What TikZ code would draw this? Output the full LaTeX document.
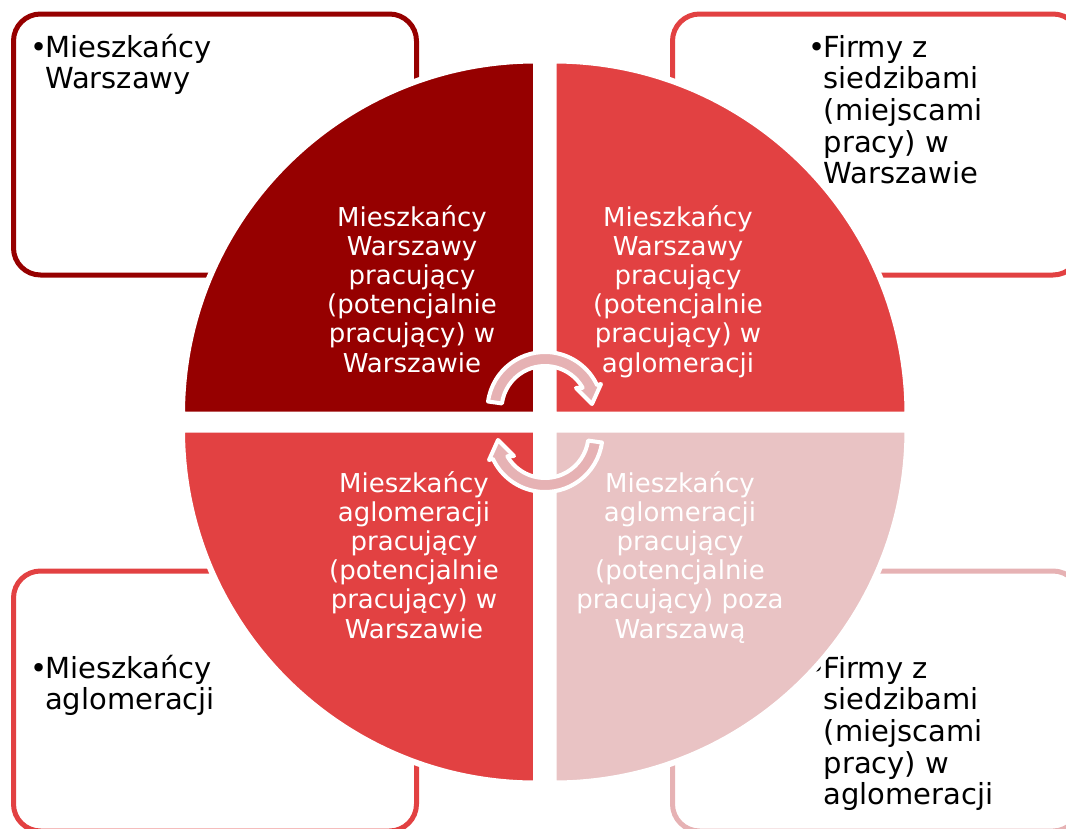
\documentclass[tikz,border=0pt]{standalone}
\usepackage{fontspec}
\setmainfont{DejaVu Sans}
\definecolor{darkred}{RGB}{150,0,0}
\definecolor{midred}{RGB}{226,65,66}
\definecolor{palepink}{RGB}{233,195,196}
\definecolor{rosepink}{RGB}{230,178,180}
\newcommand{\dotmark}{\llap{•\kern-2pt}}
% one circular arrow, local axes with y up
\newcommand{\turnarrow}{(172:57.5) arc[start angle=172, end angle=25, radius=57.5] -- (56,25.5) -- (47,5.5) -- (31,21.5) -- (30:43.5) arc[start angle=30, end angle=172, radius=43.5] -- cycle}
\begin{document}
\begin{tikzpicture}[x=1pt, y=-1pt,
    boxline/.style={line width=5pt, rounded corners=27pt},
    note/.style={inner sep=0pt, align=left, anchor=base west, font=\fontsize{29}{31.7}\selectfont},
    quarter/.style={draw=white, line width=6pt},
    qtext/.style={inner sep=0pt, align=center, anchor=base, text=white, font=\fontsize{26}{29.2}\selectfont},
    turn/.style={fill=rosepink, draw=white, line width=4pt, line join=round}]
    \useasboundingbox (0,0) rectangle (1066,828);
    \clip (0,0) rectangle (1066,828);

    % frames behind the circle
    \draw[boxline, draw=darkred] (13.5,14) rectangle (416.5,275);
    \draw[boxline, draw=midred] (672.5,14) rectangle (1080,275);
    \draw[boxline, draw=midred] (13.5,571) rectangle (416.5,831);
    \draw[boxline, draw=rosepink] (672.5,571) rectangle (1080,831);

    % anchors sit on the last line
    \node[note] (tlNote) at (45,88.7) {\dotmark Mieszkańcy\\Warszawy};
    \node[note] (trNote) at (823.5,183.8) {\dotmark Firmy z\\siedzibami\\(miejscami\\pracy) w\\Warszawie};
    \node[note] (blNote) at (45,709.7) {\dotmark Mieszkańcy\\aglomeracji};
    \node[note] (brNote) at (823.5,804.8) {\dotmark Firmy z\\siedzibami\\(miejscami\\pracy) w\\aglomeracji};

    % the four quarters
    \filldraw[quarter, fill=darkred] (536,414.5) -- ++(-354,0) arc[start angle=180, end angle=270, radius=354] -- cycle;
    \filldraw[quarter, fill=midred] (553.5,414.5) -- ++(0,-354) arc[start angle=270, end angle=360, radius=354] -- cycle;
    \filldraw[quarter, fill=palepink] (553.5,429.5) -- ++(354,0) arc[start angle=0, end angle=90, radius=354] -- cycle;
    \filldraw[quarter, fill=midred] (536,429.5) -- ++(0,354) arc[start angle=90, end angle=180, radius=354] -- cycle;

    \node[qtext] (tlText) at (412,372) {Mieszkańcy\\Warszawy\\pracujący\\(potencjalnie\\pracujący) w\\Warszawie};
    \node[qtext] (trText) at (678,372) {Mieszkańcy\\Warszawy\\pracujący\\(potencjalnie\\pracujący) w\\aglomeracji};
    \node[qtext] (blText) at (414,638) {Mieszkańcy\\aglomeracji\\pracujący\\(potencjalnie\\pracujący) w\\Warszawie};
    \node[qtext] (brText) at (680,638) {Mieszkańcy\\aglomeracji\\pracujący\\(potencjalnie\\pracujący) poza\\Warszawą};

    % arrows in the middle
    \begin{scope}[shift={(545,409.5)}, y=1pt]
        \filldraw[turn] \turnarrow;
    \end{scope}
    \begin{scope}[shift={(545,434.5)}, rotate=180, y=1pt]
        \filldraw[turn] \turnarrow;
    \end{scope}
\end{tikzpicture}
\end{document}
